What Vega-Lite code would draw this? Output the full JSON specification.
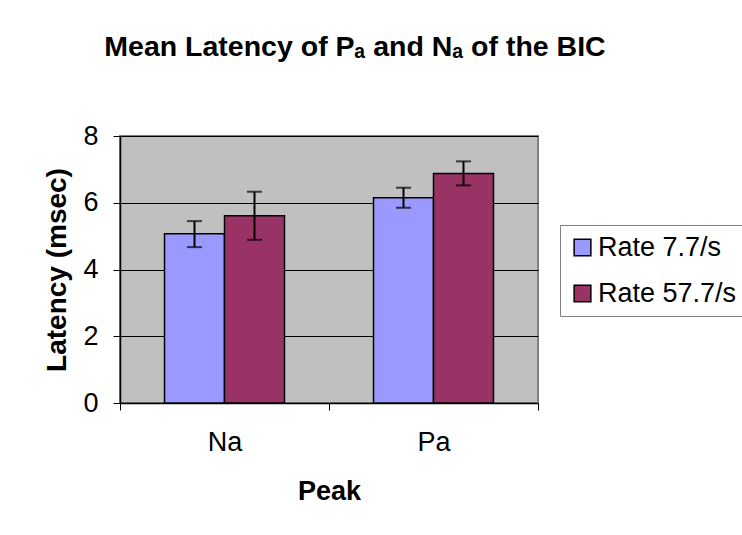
{
  "$schema": "https://vega.github.io/schema/vega-lite/v6.json",
  "width": 418,
  "height": 267,
  "autosize": {"type": "none"},
  "padding": {"left": 120, "top": 136, "right": 204, "bottom": 132},
  "background": "white",
  "title": {
    "text": "Mean Latency of Pₐ and Nₐ of the BIC",
    "font": "Liberation Sans",
    "fontSize": 28.5,
    "fontWeight": "bold",
    "color": "black",
    "anchor": "middle",
    "baseline": "alphabetic",
    "offset": 38,
    "dx": 26
  },
  "data": {
    "values": [
      {"peak": "Na", "rate": "Rate 7.7/s", "mean": 5.07, "lo": 4.67, "hi": 5.45},
      {"peak": "Na", "rate": "Rate 57.7/s", "mean": 5.61, "lo": 4.89, "hi": 6.33},
      {"peak": "Pa", "rate": "Rate 7.7/s", "mean": 6.15, "lo": 5.85, "hi": 6.45},
      {"peak": "Pa", "rate": "Rate 57.7/s", "mean": 6.88, "lo": 6.52, "hi": 7.24}
    ]
  },
  "encoding": {
    "x": {
      "field": "peak",
      "type": "nominal",
      "scale": {"paddingInner": 0, "paddingOuter": 0},
      "axis": {
        "title": "Peak",
        "labelAngle": 0,
        "tickBand": "extent",
        "tickSize": 7,
        "labelPadding": 19,
        "titlePadding": 23
      }
    },
    "xOffset": {
      "field": "rate",
      "type": "nominal",
      "sort": ["Rate 7.7/s", "Rate 57.7/s"],
      "scale": {"paddingInner": 0, "paddingOuter": 0.742}
    }
  },
  "layer": [
    {
      "mark": {"type": "bar", "stroke": "black", "strokeWidth": 1.5},
      "encoding": {
        "y": {
          "field": "mean",
          "type": "quantitative",
          "scale": {"domain": [0, 8], "nice": false},
          "axis": {
            "title": "Latency (msec)",
            "titleFontSize": 28,
            "values": [0, 2, 4, 6, 8],
            "grid": true,
            "tickSize": 7,
            "labelPadding": 15,
            "titlePadding": 11
          }
        },
        "color": {
          "field": "rate",
          "type": "nominal",
          "sort": ["Rate 7.7/s", "Rate 57.7/s"],
          "scale": {"domain": ["Rate 7.7/s", "Rate 57.7/s"], "range": ["#9999FF", "#993366"]},
          "legend": {
            "title": null,
            "orient": "none",
            "legendX": 440,
            "legendY": 89,
            "symbolType": "square",
            "symbolSize": 280,
            "symbolStrokeColor": "black",
            "symbolStrokeWidth": 1.5,
            "symbolOpacity": 1,
            "labelFontSize": 27,
            "labelFont": "Liberation Sans",
            "labelColor": "black",
            "labelOffset": 2,
            "rowPadding": 18,
            "padding": 9,
            "strokeColor": "#808080",
            "fillColor": "white"
          }
        }
      }
    },
    {
      "mark": {"type": "rule", "color": "black", "strokeWidth": 2},
      "encoding": {
        "y": {"field": "lo", "type": "quantitative"},
        "y2": {"field": "hi"}
      }
    },
    {
      "mark": {"type": "tick", "color": "black", "thickness": 2, "size": 15, "orient": "horizontal"},
      "encoding": {"y": {"field": "lo", "type": "quantitative"}}
    },
    {
      "mark": {"type": "tick", "color": "black", "thickness": 2, "size": 15, "orient": "horizontal"},
      "encoding": {"y": {"field": "hi", "type": "quantitative"}}
    }
  ],
  "config": {
    "font": "Liberation Sans",
    "view": {"fill": "#C0C0C0", "stroke": "#808080", "strokeWidth": 2},
    "axis": {
      "labelFont": "Liberation Sans",
      "labelFontSize": 27,
      "labelColor": "black",
      "titleFont": "Liberation Sans",
      "titleFontSize": 27,
      "titleFontWeight": "bold",
      "titleColor": "black",
      "domainColor": "black",
      "domainWidth": 1.5,
      "tickColor": "black",
      "tickWidth": 1,
      "gridColor": "black",
      "gridWidth": 1,
      "gridOpacity": 1
    },
    "axisX": {"grid": false}
  }
}
